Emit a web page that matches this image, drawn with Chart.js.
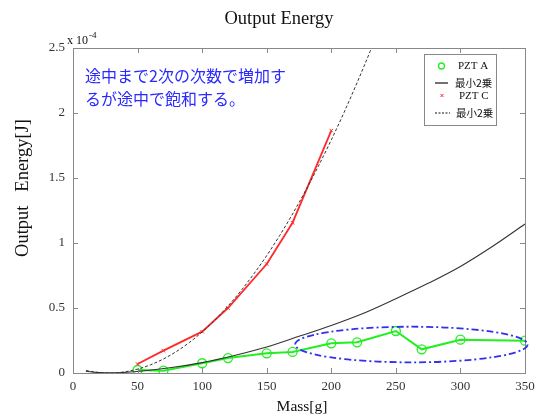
<!DOCTYPE html>
<html>
<head>
<meta charset="utf-8">
<script src="https://cdn.jsdelivr.net/npm/chart.js@4"></script>
<style>
  body { margin: 0; background: #fff; }
  #wrap { width: 538px; height: 420px; }
</style>
</head>
<body>
<div id="wrap"><canvas id="energyChart" width="538" height="420"></canvas></div>
<script>
// values are in units of 1e-4 J
const massA = [50, 70, 100, 120, 150, 170, 200, 220, 250, 270, 300, 350];
const energyA = [0.023, 0.018, 0.075, 0.115, 0.151, 0.162, 0.228, 0.236, 0.323, 0.182, 0.256, 0.249];

const massC = [50, 70, 100, 120, 150, 170, 200];
const energyC = [0.069, 0.172, 0.318, 0.50, 0.838, 1.156, 1.864];

// least-squares curves, sampled
const fitAMass = [10, 20, 30, 50, 75, 100, 125, 150, 175, 200, 225, 250, 275, 300, 325, 350];
const fitAEnergy = [0.014, 0.003, 0.001, 0.012, 0.04, 0.08, 0.135, 0.2, 0.282, 0.366, 0.46, 0.572, 0.69, 0.82, 0.975, 1.146];

const fitCMass = [10, 20, 30, 40, 50, 60, 70, 80, 90, 100, 110, 120, 130, 140, 150, 160, 170, 180, 190, 200, 210, 220, 230, 240];
const fitCEnergy = [0.019, 0.004, 0.0, 0.009, 0.03, 0.063, 0.108, 0.165, 0.234, 0.316, 0.409, 0.515, 0.632, 0.762, 0.903, 1.057, 1.223, 1.401, 1.591, 1.793, 2.007, 2.234, 2.472, 2.72];

const xTicks = [0, 50, 100, 150, 200, 250, 300, 350];
const yTicks = [0, 0.5, 1, 1.5, 2, 2.5];

// dash-dot ellipse around the saturated region: [centerMass, centerEnergy, halfWidth, halfHeight]
const saturationEllipse = [262, 0.219, 90, 0.137];

const serif = '"Liberation Serif", "DejaVu Serif", serif';
const gothic = '"Noto Sans CJK JP", "Noto Sans", sans-serif';

const toXY = (xs, ys) => xs.map((x, i) => ({ x: x, y: ys[i] }));

const decorations = {
  id: 'decorations',
  afterDraw(chart) {
    const ctx = chart.ctx;
    const a = chart.chartArea;
    const xs = chart.scales.x, ys = chart.scales.y;
    ctx.save();

    // inward ticks on all four sides and the frame
    ctx.strokeStyle = '#888';
    ctx.lineWidth = 1;
    ctx.beginPath();
    xTicks.forEach(v => {
      const px = Math.round(xs.getPixelForValue(v)) + 0.5;
      ctx.moveTo(px, a.bottom); ctx.lineTo(px, a.bottom - 5);
      ctx.moveTo(px, a.top); ctx.lineTo(px, a.top + 5);
    });
    yTicks.forEach(v => {
      const py = Math.round(ys.getPixelForValue(v)) + 0.5;
      ctx.moveTo(a.left, py); ctx.lineTo(a.left + 5, py);
      ctx.moveTo(a.right, py); ctx.lineTo(a.right - 5, py);
    });
    ctx.stroke();
    ctx.strokeRect(Math.round(a.left) + 0.5, Math.round(a.top) + 0.5, Math.round(a.right - a.left), Math.round(a.bottom - a.top));

    // ellipse
    const [cx, cy, rx, ry] = saturationEllipse;
    const ex = xs.getPixelForValue(cx), ey = ys.getPixelForValue(cy);
    const erx = xs.getPixelForValue(cx + rx) - ex;
    const ery = ey - ys.getPixelForValue(cy + ry);
    ctx.strokeStyle = '#3030ee';
    ctx.lineWidth = 1.8;
    ctx.setLineDash([7, 3, 2, 3]);
    ctx.beginPath();
    ctx.ellipse(ex, ey, erx, ery, 0, 0, Math.PI * 2);
    ctx.stroke();
    ctx.setLineDash([]);

    // texts
    ctx.fillStyle = '#111';
    ctx.textAlign = 'center';
    ctx.textBaseline = 'middle';
    ctx.font = '18.5px ' + serif;
    ctx.fillText('Output Energy', 279, 19);
    ctx.font = '15.5px ' + serif;
    ctx.fillText('Mass[g]', 302, 407);
    ctx.save();
    ctx.translate(23, 188);
    ctx.rotate(-Math.PI / 2);
    ctx.font = '18.5px ' + serif;
    ctx.fillText('Output   Energy[J]', 0, 0);
    ctx.restore();

    ctx.textAlign = 'left';
    ctx.font = '12px ' + serif;
    ctx.fillText('x 10', 67, 41);
    ctx.font = '9px ' + serif;
    ctx.fillText('-4', 89, 36);

    ctx.fillStyle = '#2a2aff';
    ctx.font = '16px ' + gothic;
    ctx.fillText('途中まで2次の次数で増加す', 85, 76);
    ctx.fillText('るが途中で飽和する。', 85, 99);

    // legend box
    ctx.fillStyle = '#fff';
    ctx.fillRect(424, 54, 73, 71);
    ctx.strokeStyle = '#888';
    ctx.lineWidth = 1;
    ctx.strokeRect(424.5, 54.5, 72, 71);
    ctx.fillStyle = '#111';
    ctx.font = '11px ' + serif;
    ctx.fillText('PZT A', 458, 66);
    ctx.fillText('PZT C', 459, 96);
    ctx.font = '10.5px ' + gothic;
    ctx.fillText('最小2乗', 455, 83);
    ctx.fillText('最小2乗', 456, 113);
    ctx.strokeStyle = '#22ee22';
    ctx.lineWidth = 1.3;
    ctx.beginPath();
    ctx.arc(441.5, 66, 3, 0, Math.PI * 2);
    ctx.stroke();
    ctx.strokeStyle = '#111';
    ctx.lineWidth = 1.2;
    ctx.beginPath();
    ctx.moveTo(435, 83); ctx.lineTo(448, 83);
    ctx.stroke();
    ctx.setLineDash([2, 1.5]);
    ctx.beginPath();
    ctx.moveTo(435, 113); ctx.lineTo(450, 113);
    ctx.stroke();
    ctx.setLineDash([]);
    ctx.strokeStyle = '#ff3030';
    ctx.lineWidth = 1;
    ctx.beginPath();
    ctx.moveTo(440.5, 94); ctx.lineTo(443.5, 97);
    ctx.moveTo(443.5, 94); ctx.lineTo(440.5, 97);
    ctx.stroke();

    ctx.restore();
  }
};

new Chart(document.getElementById('energyChart'), {
  type: 'scatter',
  data: {
    datasets: [
      {
        label: '最小2乗 C',
        data: toXY(fitCMass, fitCEnergy),
        showLine: true,
        borderColor: '#333',
        borderWidth: 1,
        borderDash: [3, 2],
        pointRadius: 0,
        cubicInterpolationMode: 'monotone'
      },
      {
        label: '最小2乗 A',
        data: toXY(fitAMass, fitAEnergy),
        showLine: true,
        borderColor: '#333',
        borderWidth: 1.1,
        pointRadius: 0,
        cubicInterpolationMode: 'monotone'
      },
      {
        label: 'PZT C',
        data: toXY(massC, energyC),
        showLine: true,
        borderColor: '#ff2a2a',
        borderWidth: 1.8,
        pointStyle: 'crossRot',
        pointRadius: 2.5,
        pointBorderColor: '#ff2a2a',
        pointBorderWidth: 1
      },
      {
        label: 'PZT A',
        data: toXY(massA, energyA),
        showLine: true,
        borderColor: '#22ee22',
        borderWidth: 2,
        pointStyle: 'circle',
        pointRadius: 4.5,
        pointBorderColor: '#22ee22',
        pointBackgroundColor: 'rgba(0,0,0,0)',
        pointBorderWidth: 1.3
      }
    ]
  },
  options: {
    responsive: false,
    animation: false,
    layout: { padding: { top: 48, right: 13, left: 0, bottom: 0 } },
    plugins: { legend: { display: false }, tooltip: { enabled: false } },
    scales: {
      x: {
        type: 'linear',
        min: 0,
        max: 350,
        afterFit: s => { s.height = 47; s.paddingRight = 0; s.paddingLeft = 0; },
        afterBuildTicks: s => { s.ticks = xTicks.map(v => ({ value: v })); },
        grid: { display: false, drawTicks: false },
        border: { display: false },
        ticks: { color: '#333', padding: 6, maxRotation: 0, font: { family: serif, size: 13 } }
      },
      y: {
        type: 'linear',
        min: 0,
        max: 2.5,
        afterFit: s => { s.width = 73; s.paddingTop = 0; s.paddingBottom = 0; },
        afterBuildTicks: s => { s.ticks = yTicks.map(v => ({ value: v })); },
        grid: { display: false, drawTicks: false },
        border: { display: false },
        ticks: { color: '#333', padding: 8, font: { family: serif, size: 13 }, callback: v => String(v) }
      }
    }
  },
  plugins: [decorations]
});
</script>
</body>
</html>
